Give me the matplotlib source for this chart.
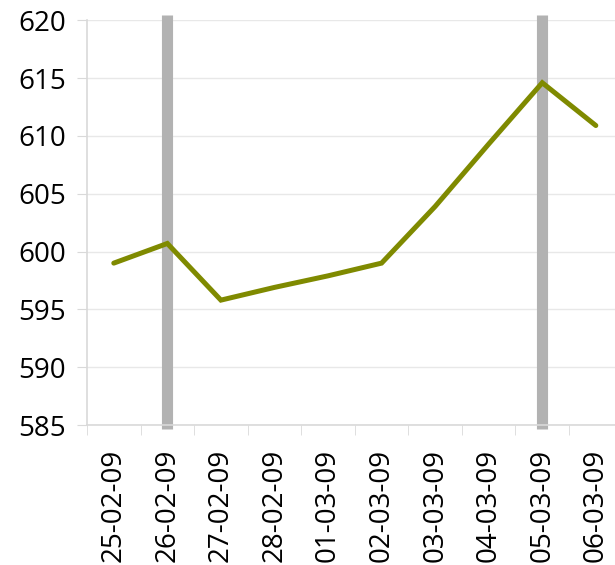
import matplotlib
matplotlib.use("Agg")
import matplotlib.pyplot as plt
import numpy as np

dates = ['25-02-09', '26-02-09', '27-02-09', '28-02-09', '01-03-09',
         '02-03-09', '03-03-09', '04-03-09', '05-03-09', '06-03-09']
values = [599.0, 600.7, 595.8, 596.9, 597.9, 599.0, 603.9, 609.3, 614.6, 610.9]
marked = ['26-02-09', '05-03-09']
yticks = [585, 590, 595, 600, 605, 610, 615, 620]

plt.rcParams['font.family'] = ['Open Sans', 'DejaVu Sans']

fig = plt.figure(figsize=(6.15, 5.65), dpi=100)
ax = fig.add_axes([87/615, 1-425/565, (622.6-87)/615, (425-20.3)/565])

x = np.arange(len(dates))
# grey markers for the two highlighted days
for d in marked:
    ax.axvline(dates.index(d), ymin=-0.01, ymax=1.0125, color='#b2b2b2',
               linewidth=8, solid_capstyle='butt', clip_on=False, zorder=2)
ax.plot(x, values, color='#7f8a00', linewidth=3.6, solid_capstyle='round',
        solid_joinstyle='miter', zorder=3)

ax.set_ylim(585, 620)
ax.set_yticks(yticks)
ax.set_xlim(-0.5, len(dates)-0.5)
ax.set_xticks(x)
ax.set_xticklabels(dates, rotation=90)
ax.set_xticks(np.arange(len(dates)+1)-0.5, minor=True)

ax.grid(axis='y', color='#e8e8e8', linewidth=1)
ax.set_axisbelow(True)
for s in ['top', 'right']:
    ax.spines[s].set_visible(False)
for s in ['left', 'bottom']:
    ax.spines[s].set_color('#d9d9d9')
    ax.spines[s].set_linewidth(1.2)

ax.tick_params(axis='y', labelsize=20, length=7, color='#d9d9d9', pad=8)
ax.tick_params(axis='x', which='major', labelsize=20, length=0, pad=17)
ax.tick_params(axis='x', which='minor', length=7, color='#d9d9d9')

fig.savefig('out.png', dpi=100)
